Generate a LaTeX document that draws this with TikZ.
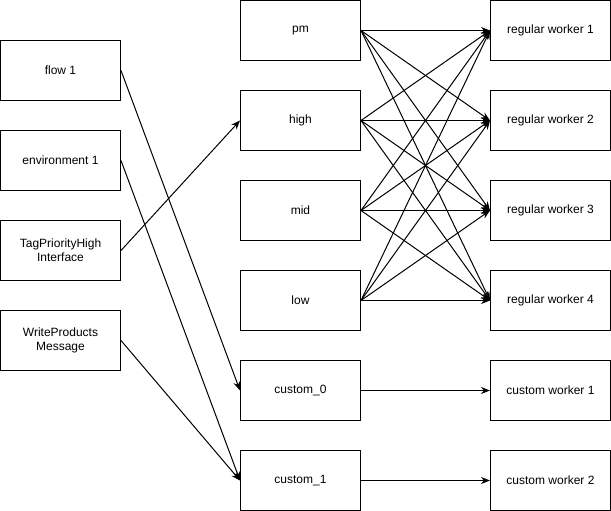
\documentclass[tikz,border=0pt]{standalone}
\usepackage{fontspec}
\setmainfont{Liberation Sans}
\usetikzlibrary{arrows.meta}
\begin{document}
\begin{tikzpicture}[x=1pt,y=-1pt,
  box/.style={draw,line width=1pt,minimum width=120pt,minimum height=60pt,inner sep=0pt,align=center,font=\fontsize{12}{14}\selectfont},
  conn/.style={line width=1pt,-{Stealth[length=9pt,width=7pt]}}]
\useasboundingbox (0,0) rectangle (611,511);
% left column
\node[box] (flow) at (60.5,70.5) {flow 1};
\node[box] (env) at (60.5,160.5) {environment 1};
\node[box] (tag) at (60.5,250.5) {TagPriorityHigh\\Interface};
\node[box] (wp) at (60.5,340.5) {WriteProducts\\Message};
% middle column
\node[box] (pm) at (300.5,30.5) {pm};
\node[box] (high) at (300.5,120.5) {high};
\node[box] (mid) at (300.5,210.5) {mid};
\node[box] (low) at (300.5,300.5) {low};
\node[box] (c0) at (300.5,390.5) {custom\_0};
\node[box] (c1) at (300.5,480.5) {custom\_1};
% right column
\node[box] (r1) at (550.5,30.5) {regular worker 1};
\node[box] (r2) at (550.5,120.5) {regular worker 2};
\node[box] (r3) at (550.5,210.5) {regular worker 3};
\node[box] (r4) at (550.5,300.5) {regular worker 4};
\node[box] (cw1) at (550.5,390.5) {custom worker 1};
\node[box] (cw2) at (550.5,480.5) {custom worker 2};
% left to middle
\draw[conn] (flow.east) -- (c0.west);
\draw[conn] (env.east) -- (c1.west);
\draw[conn] (tag.east) -- (high.west);
\draw[conn] (wp.east) -- (c1.west);
% middle to right
\foreach \s in {pm,high,mid,low}{
  \foreach \t in {r1,r2,r3,r4}{
    \draw[conn] (\s.east) -- (\t.west);
  }
}
\draw[conn] (c0.east) -- (cw1.west);
\draw[conn] (c1.east) -- (cw2.west);
\end{tikzpicture}
\end{document}
